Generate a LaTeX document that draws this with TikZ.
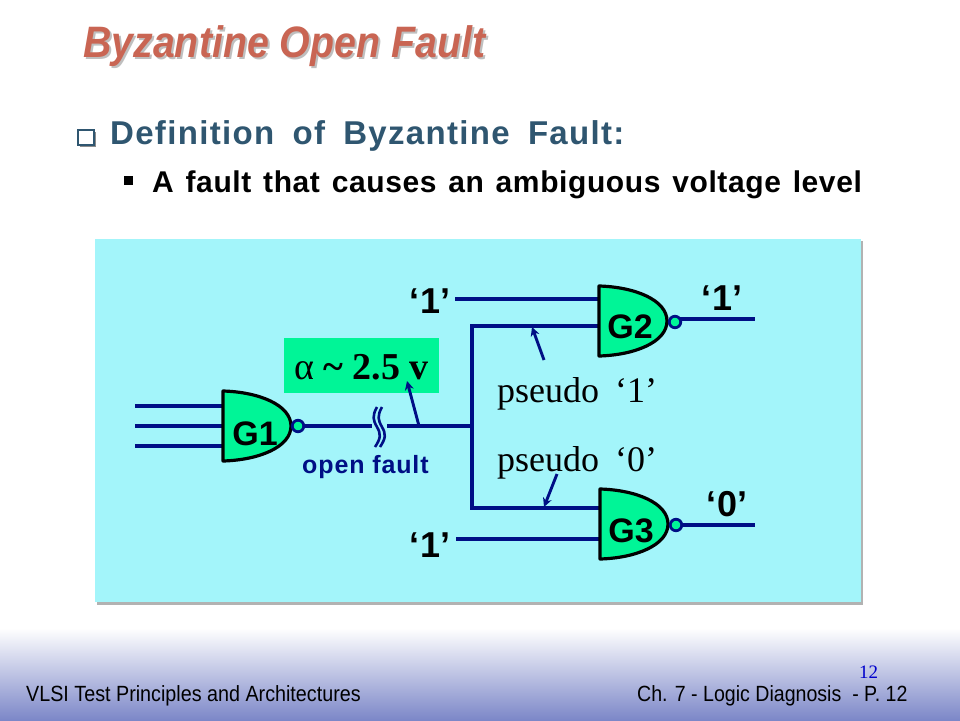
\documentclass[tikz,border=0pt]{standalone}
\usepackage{fontspec}
\setmainfont{Liberation Sans}
\newfontfamily\serifface{Liberation Serif}
\usetikzlibrary{arrows.meta}
\definecolor{panel}{HTML}{A3F5FA}
\definecolor{gatefill}{HTML}{00F597}
\definecolor{wirecol}{HTML}{000F85}
\definecolor{titlecol}{HTML}{C96553}
\definecolor{headcol}{HTML}{2F5670}
\definecolor{footcol}{HTML}{7C87C8}
\tikzset{
  x=1pt,y=-1pt,
  wire/.style={draw=wirecol,line width=3.1pt},
  pointer/.style={draw=wirecol,line width=2.9pt,-{Stealth[length=9pt,width=9pt]}},
  gatebody/.style={draw=black,fill=gatefill,line width=3.2pt,line join=round},
  bubble/.style={circle,draw=wirecol,fill=gatefill,line width=2.8pt,minimum size=11.5pt,inner sep=0pt},
  gatetext/.style={font=\fontsize{34}{34}\selectfont\bfseries,inner sep=0pt,anchor=base},
  levellabel/.style={font=\fontsize{36}{36}\selectfont\bfseries,inner sep=0pt,anchor=base},
  serifnote/.style={font=\serifface\fontsize{36}{36}\selectfont,inner sep=0pt,anchor=base west},
  txt/.style={inner sep=0pt,anchor=base west},
}
\newcommand{\gateshape}[3]{% name, left x, top y
  \draw[gatebody] (#2,#3) .. controls (#2+36,#3+1) and (#2+68,#3+14) .. (#2+68,#3+35)
    .. controls (#2+68,#3+56) and (#2+36,#3+69) .. (#2,#3+70) -- cycle;
}
\begin{document}
\begin{tikzpicture}
\useasboundingbox (0,0) rectangle (960,720);
\fill[white] (0,0) rectangle (960,720);
\shade[top color=white,bottom color=footcol] (0,628) rectangle (960,720);
% title
\node[txt,text=black!25,xscale=0.894] at (85,59) {\fontsize{44}{44}\selectfont\bfseries\itshape Byzantine Open Fault};
\node[txt,text=titlecol,xscale=0.894] (title) at (83,57) {\fontsize{44}{44}\selectfont\bfseries\itshape Byzantine Open Fault};
% bullets
\fill[black!45] (80,132) rectangle (96,147);
\draw[headcol,fill=white,line width=1.4pt] (78,130) rectangle (94,145);
\node[txt,text=headcol] (head) at (110,144) {\fontsize{33}{33}\selectfont\bfseries\addfontfeature{LetterSpace=4}\spaceskip=18.3pt Definition of Byzantine Fault:};
\fill[black] (124,176) rectangle (133,185);
\node[txt] (sub) at (152,192) {\fontsize{30}{30}\selectfont\bfseries\addfontfeature{LetterSpace=2}\spaceskip=11.8pt A fault that causes an ambiguous voltage level};
% panel
\fill[black!30] (97,241) rectangle (863,605);
\fill[panel] (95,239) rectangle (861,602);
% value box
\node[fill=gatefill,minimum width=155pt,minimum height=55pt,inner sep=0pt] (val) at (361.5,365.5) {};
\node[inner sep=0pt,anchor=base] (valtxt) at (361.5,379) {\serifface\fontsize{38}{38}\selectfont α {\bfseries \char"7E{} 2.5 v}};
% coordinates
\coordinate (i1a) at (135,406); \coordinate (i1b) at (223,406);
\coordinate (i2a) at (135,426); \coordinate (i2b) at (223,426);
\coordinate (i3a) at (135,446); \coordinate (i3b) at (223,446);
\coordinate (brkL) at (372,426); \coordinate (brkR) at (387,426);
\coordinate (junc) at (472,426);
\coordinate (tap) at (419,426);
\coordinate (g2up) at (455,299); \coordinate (g2upE) at (600,299);
\coordinate (g2low) at (472,326); \coordinate (g2lowE) at (600,326);
\coordinate (g3up) at (472,508); \coordinate (g3upE) at (600,508);
\coordinate (g3low) at (456,539); \coordinate (g3lowE) at (600,539);
\coordinate (o1s) at (298,426);
\coordinate (o2s) at (675,319); \coordinate (o2) at (755,319);
\coordinate (o3s) at (676,525); \coordinate (o3) at (755,525);
\coordinate (p1s) at (544,360); \coordinate (p1e) at (532,327);
\coordinate (p0s) at (557,474); \coordinate (p0e) at (544,507);
\coordinate (valtip) at (407,381);
% wires
\draw[wire] (i1a)--(i1b); \draw[wire] (i2a)--(i2b); \draw[wire] (i3a)--(i3b);
\draw[wire] (g2up)--(g2upE);
\draw[wire,line join=miter] (g2lowE)--(g2low)--(g3up)--(g3upE);
\draw[wire] (g3low)--(g3lowE);
\draw[wire] (brkR)--(junc);
\draw[wire] (o1s)--(brkL);
\draw[wire] (o2s)--(o2);
\draw[wire] (o3s)--(o3);
% gates
\gateshape{G1}{223}{391}
\gateshape{G2}{599}{286}
\gateshape{G3}{600}{489}
\node[gatetext] (G1) at (255,445) {G1};
\node[gatetext] (G2) at (630,338) {G2};
\node[gatetext] (G3) at (631,542) {G3};
\node[bubble] (b1) at (298,426) {};
\node[bubble] (b2) at (675,322) {};
\node[bubble] (b3) at (676,525) {};
% break mark
\draw[wire,line width=2.6pt] (377,407) .. controls (372,416) and (373,420) .. (377,427) .. controls (381,434) and (381,438) .. (375,447);
\draw[wire,line width=2.6pt] (382,407) .. controls (377,416) and (378,420) .. (382,427) .. controls (386,434) and (386,438) .. (380,447);
% pointers
\draw[pointer] (tap)--(valtip);
\draw[pointer] (p1s)--(p1e);
\draw[pointer] (p0s)--(p0e);
% labels
\node[levellabel] (l1) at (430,313) {‘1’};
\node[levellabel] (l2) at (722,310) {‘1’};
\node[levellabel] (l3) at (727,516) {‘0’};
\node[levellabel] (l4) at (430,557) {‘1’};
\node[serifnote] (ps1) at (497,402) {pseudo\hspace{16pt}‘1’};
\node[serifnote] (ps0) at (497,471) {pseudo\hspace{16pt}‘0’};
\node[txt,text=wirecol] (of) at (302,473) {\fontsize{25}{25}\selectfont\bfseries\addfontfeature{LetterSpace=3.5}open fault};
% footer
\node[txt,xscale=0.897] (f1) at (26,701) {\fontsize{22}{22}\selectfont VLSI Test Principles and Architectures};
\node[txt,xscale=0.89] (f2) at (637,701) {\fontsize{22}{22}\selectfont Ch. 7 - Logic Diagnosis \ - P. 12};
\node[txt,text=blue!80!black] (pg) at (859,678) {\serifface\fontsize{19}{19}\selectfont 12};
\end{tikzpicture}
\end{document}
